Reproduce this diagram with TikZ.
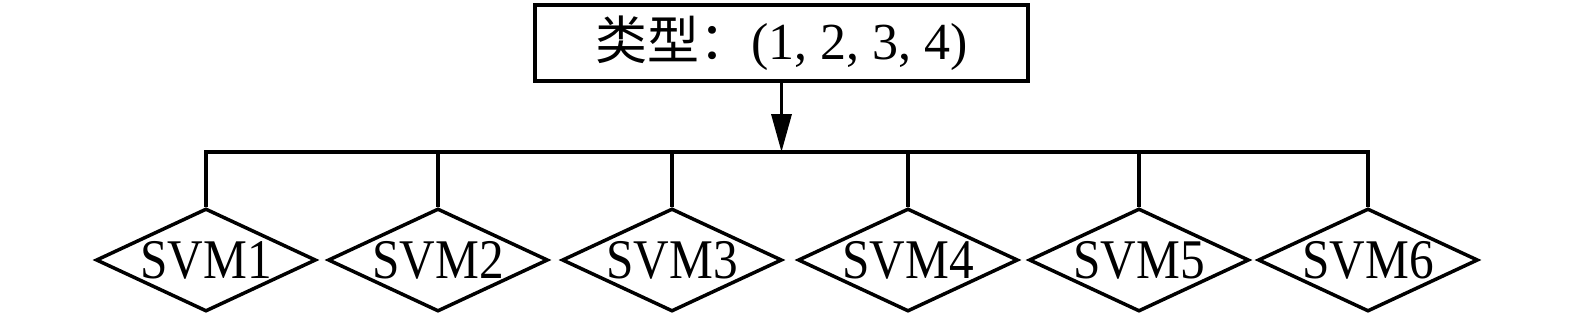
\documentclass[tikz,border=0pt]{standalone}
\usepackage{fontspec}
\setmainfont{Liberation Serif}
\newfontfamily\cjk{Noto Sans CJK SC}
\newfontfamily\svmfont[FakeStretch=0.88]{Liberation Serif}
\usetikzlibrary{shapes.geometric,arrows.meta}
\begin{document}
\begin{tikzpicture}[x=0.5pt,y=-0.5pt, line width=1.75pt,
  svm/.style={draw, shape=diamond, aspect=2.13, minimum width=110pt, minimum height=51.5pt, inner sep=0pt, font=\svmfont\fontsize{28}{32}\selectfont},
  topbox/.style={draw, minimum width=246.5pt, minimum height=38pt, inner sep=0pt, font=\fontsize{26}{30}\selectfont}]
\useasboundingbox (0,0) rectangle (1575,317);
\node[topbox] (t) at (781.5,43) {{\cjk 类型：}(1, 2, 3, 4)};
\node[svm] (s1) at (206,260) {SVM1};
\node[svm] (s2) at (438,260) {SVM2};
\node[svm] (s3) at (672,260) {SVM3};
\node[svm] (s4) at (908,260) {SVM4};
\node[svm] (s5) at (1139,260) {SVM5};
\node[svm] (s6) at (1368,260) {SVM6};
\coordinate (h1) at (206,152);
\coordinate (h2) at (438,152);
\coordinate (h3) at (672,152);
\coordinate (h4) at (908,152);
\coordinate (h5) at (1139,152);
\coordinate (h6) at (1368,152);
\coordinate (ha) at (t.south |- h1);
\draw (s1.north) -- (h1) -- (h6) -- (s6.north);
\draw (h2) -- (s2.north);
\draw (h3) -- (s3.north);
\draw (h4) -- (s4.north);
\draw (h5) -- (s5.north);
\draw[-{Triangle[length=19pt,width=10pt]}] (t.south) -- (ha);
\end{tikzpicture}
\end{document}
